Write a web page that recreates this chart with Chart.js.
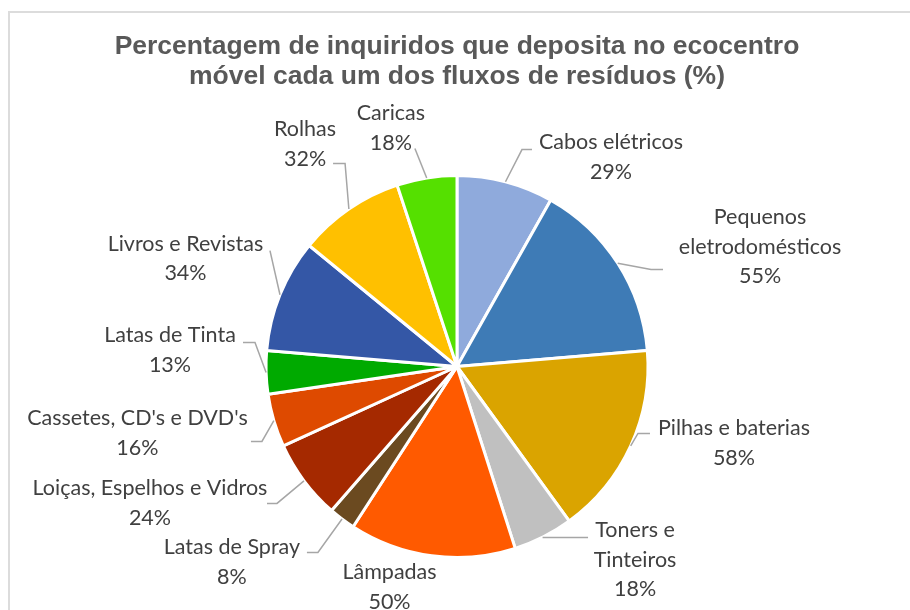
<!DOCTYPE html>
<html>
<head>
<meta charset="utf-8">
<script src="https://cdn.jsdelivr.net/npm/chart.js@4/dist/chart.umd.min.js"></script>
<style>
  html, body { margin: 0; padding: 0; background: #ffffff; }
  #wrap { position: relative; width: 910px; height: 610px; overflow: hidden; }
  #frame { position: absolute; left: 8px; top: 11px; width: 1000px; height: 1000px;
           border-left: 2px solid #dcdcdc; border-top: 2px solid #dcdcdc; }
  canvas { position: absolute; left: 0; top: 0; }
</style>
</head>
<body>
<div id="wrap">
  <div id="frame"></div>
  <canvas id="c" width="910" height="610"></canvas>
</div>
<script>
// ---- data ----
const categories = [
  ["Cabos elétricos"],
  ["Pequenos", "eletrodomésticos"],
  ["Pilhas e baterias"],
  ["Toners e", "Tinteiros"],
  ["Lâmpadas"],
  ["Latas de Spray"],
  ["Loiças, Espelhos e Vidros"],
  ["Cassetes, CD's e DVD's"],
  ["Latas de Tinta"],
  ["Livros e Revistas"],
  ["Rolhas"],
  ["Caricas"]
];
const percentages = [29, 55, 58, 18, 50, 8, 24, 16, 13, 34, 32, 18];
const titleLines = ["Percentagem de inquiridos que deposita no ecocentro",
                    "móvel cada um dos fluxos de resíduos (%)"];

// ---- styles ----
const sliceColors = ["#8faadc", "#3e7bb6", "#daa400", "#c0c0c0", "#ff5a00", "#6b4a20",
                     "#a52900", "#de4a00", "#00aa00", "#3457a6", "#ffc000", "#55e000"];

// label layout: text offset (first line centre) and leader points, relative to the arc's outer mid point
const labelLayout = [
  { t: [105.5, -39.2], l: [[16.5, -32.2], [26.5, -32.2]] },
  { t: [142.3, -45.8], l: [[33.3, 6.2], [45.3, 6.2]] },
  { t: [103.3, -17.5], l: [[7.3, -12.5], [19.3, -12.5]] },
  { t: [91.7, -6.4],   l: [[0, 0.6], [44.7, 0.6]] },
  { t: [-42.2, 16.7],  l: [] },
  { t: [-110.1, 28.5], l: [[-24.1, 33.5], [-35.1, 33.5]] },
  { t: [-154, 7.6],    l: [[-27, 22.6], [-37, 22.6]] },
  { t: [-136.4, -2.2], l: [[-11.9, 20.8], [-22.9, 20.8]] },
  { t: [-96.1, -37],   l: [[-11.1, -30], [-23.1, -30]] },
  { t: [-94.5, -51.1], l: [[-10, -44.1]] },
  { t: [-43.8, -79.6], l: [[-3.8, -45.6], [-15.8, -45.6]] },
  { t: [-35.8, -64.4], l: [[-11.8, -29.4]] }
];

const labelPlugin = {
  id: 'outerLabels',
  afterDatasetsDraw(chart) {
    const ctx = chart.ctx;
    const meta = chart.getDatasetMeta(0);
    ctx.save();
    meta.data.forEach((arc, i) => {
      const p = arc.getProps(['x', 'y', 'startAngle', 'endAngle', 'outerRadius'], true);
      const mid = (p.startAngle + p.endAngle) / 2;
      const ax = p.x + Math.cos(mid) * p.outerRadius;
      const ay = p.y + Math.sin(mid) * p.outerRadius;
      const lay = labelLayout[i];
      if (lay.l.length) {
        ctx.beginPath();
        ctx.strokeStyle = '#a6a6a6';
        ctx.lineWidth = 1.5;
        ctx.moveTo(ax, ay);
        lay.l.forEach(pt => ctx.lineTo(ax + pt[0], ay + pt[1]));
        ctx.stroke();
      }
      const lines = categories[i].concat([percentages[i] + '%']);
      ctx.fillStyle = '#404040';
      ctx.font = '21.5px Lato';
      ctx.textAlign = 'center';
      ctx.textBaseline = 'middle';
      lines.forEach((s, k) => {
        ctx.fillText(s, ax + lay.t[0], ay + lay.t[1] + k * 29.5);
      });
    });
    ctx.restore();
  }
};

new Chart(document.getElementById('c'), {
  type: 'pie',
  data: {
    labels: categories.map(c => c.join(' ')),
    datasets: [{
      data: percentages,
      backgroundColor: sliceColors,
      borderColor: '#ffffff',
      borderWidth: 3
    }]
  },
  options: {
    responsive: false,
    animation: false,
    layout: { padding: { top: 0, bottom: 51, left: 4, right: 0 } },
    plugins: {
      legend: { display: false },
      tooltip: { enabled: false },
      title: {
        display: true,
        text: titleLines,
        color: '#595959',
        font: { family: "'Liberation Sans', Arial, sans-serif", size: 26.5, weight: 'bold', lineHeight: 1.132 },
        padding: { top: 32, bottom: 82 }
      }
    }
  },
  plugins: [labelPlugin]
});
</script>
</body>
</html>
